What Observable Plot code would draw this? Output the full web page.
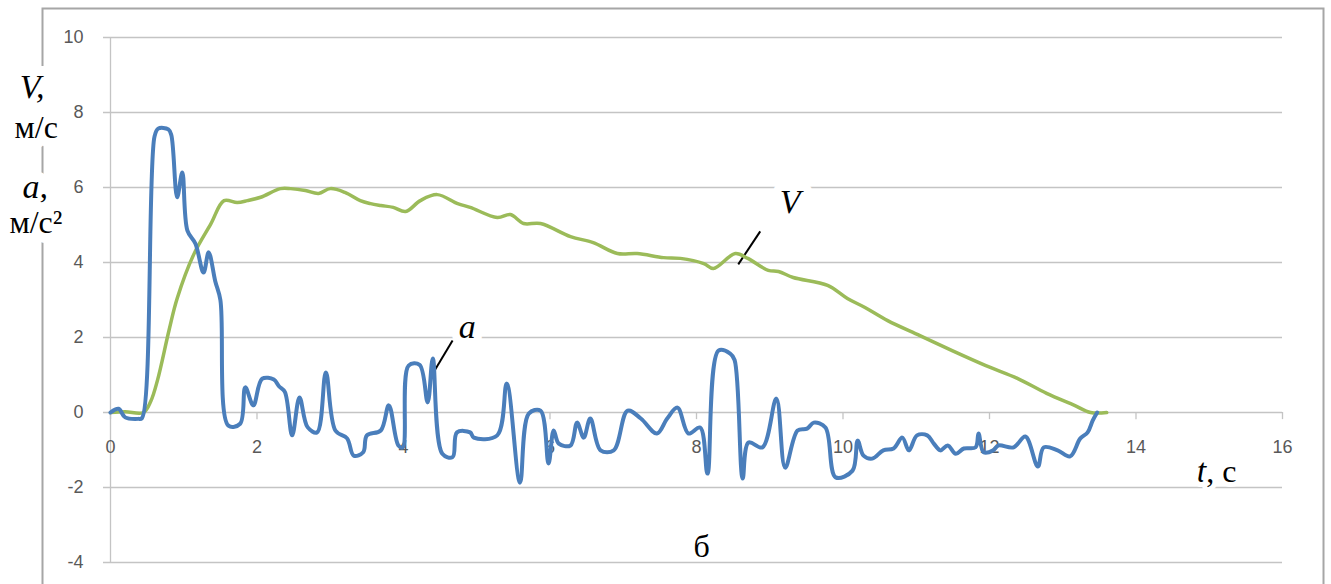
<!DOCTYPE html>
<html>
<head>
<meta charset="utf-8">
<script src="https://cdn.jsdelivr.net/npm/d3@7"></script>
<script src="https://cdn.jsdelivr.net/npm/@observablehq/plot@0.6"></script>
<style>
  html, body { margin: 0; padding: 0; background: white; overflow: hidden; }
</style>
</head>
<body>
<div id="chart"></div>
<script>
// Acceleration a (m/s^2) vs time t (s)
const tA = [0, 0.11, 0.2, 0.38, 0.43, 0.6, 0.65, 0.79, 0.83, 0.91, 0.98, 1.05, 1.16, 1.27, 1.34, 1.43, 1.5, 1.61, 1.77, 1.84, 1.95, 2.07, 2.23, 2.3, 2.38, 2.48, 2.58, 2.69, 2.82, 2.94, 3.07, 3.23, 3.32, 3.45, 3.5, 3.69, 3.8, 3.93, 3.99, 4.07, 4.22, 4.33, 4.4, 4.53, 4.67, 4.73, 4.91, 4.96, 5.28, 5.41, 5.59, 5.71, 5.87, 5.98, 6.05, 6.12, 6.28, 6.37, 6.46, 6.55, 6.69, 6.87, 7.06, 7.24, 7.46, 7.6, 7.74, 7.89, 8.05, 8.15, 8.3, 8.46, 8.52, 8.63, 8.71, 8.9, 9.09, 9.21, 9.38, 9.51, 9.6, 9.76, 9.9, 10.13, 10.2, 10.28, 10.4, 10.55, 10.69, 10.81, 10.9, 11.01, 11.15, 11.24, 11.33, 11.43, 11.54, 11.65, 11.81, 11.85, 11.92, 12.05, 12.12, 12.33, 12.49, 12.66, 12.74, 12.93, 13.1, 13.24, 13.34, 13.41, 13.47];
const aVals = [0, 0.1, -0.13, -0.17, -0.15, 7.35, 7.57, 7.55, 7.4, 5.74, 6.4, 4.85, 4.5, 3.73, 4.27, 3.5, 3.0, -0.35, -0.3, 0.67, 0.19, 0.9, 0.88, 0.7, 0.55, -0.61, 0.4, -0.39, -0.53, 1.07, -0.48, -0.69, -1.15, -1.06, -0.61, -0.48, 0.19, -0.88, -0.93, 1.25, 1.27, 0.27, 1.44, -1.1, -1.19, -0.53, -0.53, -0.67, -0.61, 0.77, -1.87, -0.03, 0.05, -1.36, -0.48, -0.83, -0.88, -0.27, -0.67, -0.16, -1.01, -1.01, 0.05, -0.16, -0.56, -0.16, 0.13, -0.56, -0.4, -1.63, 1.65, 1.57, 1.4, -1.76, -0.8, -0.93, 0.37, -1.47, -0.48, -0.43, -0.27, -0.4, -1.73, -1.55, -0.75, -1.15, -1.23, -1.01, -0.96, -0.67, -1.01, -0.61, -0.61, -0.83, -1.01, -0.88, -1.1, -0.96, -0.93, -0.56, -1.06, -1.01, -0.88, -0.93, -0.64, -1.44, -0.93, -1.01, -1.17, -0.69, -0.53, -0.21, 0.0];

// Velocity V (m/s) vs time t (s)
const tV = [0, 0.2, 0.45, 0.55, 0.64, 0.8, 0.91, 1.14, 1.37, 1.55, 1.73, 1.87, 2.05, 2.32, 2.46, 2.66, 2.84, 3.0, 3.2, 3.41, 3.55, 3.69, 3.86, 4.03, 4.23, 4.46, 4.74, 4.91, 5.28, 5.46, 5.64, 5.87, 6.28, 6.59, 6.92, 7.19, 7.55, 7.78, 8.1, 8.23, 8.53, 8.7, 8.98, 9.12, 9.32, 9.79, 10.06, 10.3, 10.61, 11.05, 11.49, 11.95, 12.38, 12.78, 13.16, 13.38, 13.6];
const vVals = [0, 0.02, 0.0, 0.3, 0.85, 2.2, 3.04, 4.23, 5.03, 5.65, 5.6, 5.65, 5.74, 5.97, 5.97, 5.92, 5.84, 5.97, 5.87, 5.65, 5.57, 5.52, 5.47, 5.36, 5.65, 5.81, 5.57, 5.47, 5.2, 5.28, 5.04, 5.04, 4.69, 4.53, 4.24, 4.24, 4.13, 4.11, 3.97, 3.84, 4.24, 4.11, 3.79, 3.76, 3.6, 3.39, 3.04, 2.8, 2.45, 2.05, 1.65, 1.25, 0.91, 0.51, 0.19, 0.0, 0.0];

const xTicks = [0, 2, 4, 6, 8, 10, 12, 14, 16];
const yTicks = [-4, -2, 0, 2, 4, 6, 8, 10];

// Annotation texts (positions in data units)
const leftItalic = [{x: -1.24, y: 8.69, text: "V,"}, {x: -1.2, y: 6.02, text: "a,"}];
const leftUpright = [{x: -1.31, y: 7.6, text: "м/с"}, {x: -1.38, y: 5.05, text: "м/с²"}];
const seriesLabels = [{x: 9.28, y: 5.6, text: "V"}, {x: 4.87, y: 2.29, text: "a"}];
const leaders = [{x1: 8.57, y1: 3.95, x2: 8.87, y2: 4.83}, {x1: 4.40, y1: 1.04, x2: 4.67, y2: 1.92}];
const tLabel = [{x: 14.83, y: -1.57, text: "t"}];
const tUnit = [{x: 14.96, y: -1.57, text: ", с"}];
const panel = [{x: 8.07, y: -3.57, text: "б"}];

const aData = tA.map((t, i) => ({t, v: aVals[i]}));
const vData = tV.map((t, i) => ({t, v: vVals[i]}));

const serif = "'Liberation Serif', 'Times New Roman', Times, serif";
const sans = "'Liberation Sans', Arial, sans-serif";
const gridColor = "#c4c4c4";
const labelColor = "#595959";

const chart = Plot.plot({
  width: 1331,
  height: 584,
  marginLeft: 110,
  marginRight: 49,
  marginTop: 37,
  marginBottom: 22,
  x: {domain: [0, 16], axis: null},
  y: {domain: [-4, 10], axis: null},
  style: {background: "white", overflow: "visible"},
  marks: [
    Plot.frame({stroke: "#a6a6a6", strokeWidth: 2, insetLeft: -68, insetTop: -29, insetRight: -41, insetBottom: -30}),
    // left axis titles with white backing
    Plot.text(leftItalic, {x: "x", y: "y", text: "text", textAnchor: "start", lineAnchor: "middle",
      fontFamily: serif, fontStyle: "italic", fontSize: 34, fill: "black", stroke: "white", strokeWidth: 20, paintOrder: "stroke"}),
    Plot.text(leftUpright, {x: "x", y: "y", text: "text", textAnchor: "start", lineAnchor: "middle",
      fontFamily: serif, fontSize: 32, fill: "black", stroke: "white", strokeWidth: 20, paintOrder: "stroke"}),
    // grid
    Plot.ruleY(yTicks, {y: d => d, stroke: gridColor, strokeWidth: 1.3, insetLeft: -7}),
    Plot.ruleX([0], {x: d => d, stroke: gridColor, strokeWidth: 1.3}),
    Plot.ruleX(xTicks, {x: d => d, y1: 0, y2: -0.19, stroke: gridColor, strokeWidth: 1.3}),
    // tick labels
    Plot.text(yTicks, {frameAnchor: "left", y: d => d, text: d => String(d), dx: -27, textAnchor: "end",
      fontFamily: sans, fontSize: 18, fill: labelColor}),
    Plot.text(xTicks, {x: d => d, y: 0, dy: 35, text: d => String(d),
      fontFamily: sans, fontSize: 18, fill: labelColor}),
    // other labels
    Plot.text(seriesLabels, {x: "x", y: "y", text: "text", lineAnchor: "middle",
      fontFamily: serif, fontStyle: "italic", fontSize: 34, fill: "black", stroke: "white", strokeWidth: 16, paintOrder: "stroke"}),
    Plot.link(leaders, {x1: "x1", y1: "y1", x2: "x2", y2: "y2", stroke: "black", strokeWidth: 2}),
    Plot.text(tLabel, {x: "x", y: "y", text: "text", textAnchor: "start", lineAnchor: "middle",
      fontFamily: serif, fontStyle: "italic", fontSize: 34, fill: "black", stroke: "white", strokeWidth: 10, paintOrder: "stroke"}),
    Plot.text(tUnit, {x: "x", y: "y", text: "text", textAnchor: "start", lineAnchor: "middle",
      fontFamily: serif, fontSize: 32, fill: "black", stroke: "white", strokeWidth: 10, paintOrder: "stroke"}),
    Plot.text(panel, {x: "x", y: "y", text: "text", lineAnchor: "middle",
      fontFamily: serif, fontSize: 32, fill: "black"}),
    // series
    Plot.line(vData, {x: "t", y: "v", stroke: "#9bbb59", strokeWidth: 3.5, strokeLinejoin: "round", curve: "catmull-rom"}),
    Plot.line(aData, {x: "t", y: "v", stroke: "#4a7ebb", strokeWidth: 4, strokeLinejoin: "round", curve: "catmull-rom"})
  ]
});

document.getElementById("chart").appendChild(chart);
</script>
</body>
</html>
